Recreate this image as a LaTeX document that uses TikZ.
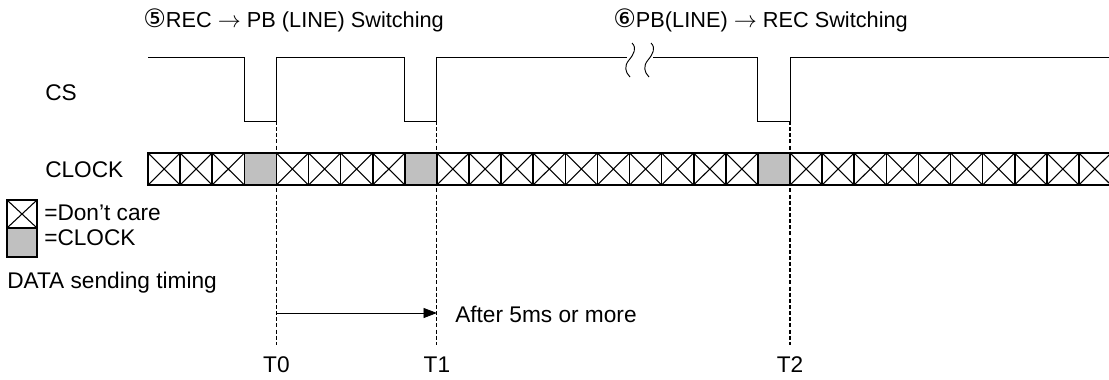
\documentclass[tikz,border=0pt]{standalone}
\usepackage{fontspec}
\setmainfont{Liberation Sans}
\newfontfamily\symfont{DejaVu Sans}
\usetikzlibrary{positioning,calc,arrows.meta}
\definecolor{clkgray}{RGB}{192,192,192}

\begin{document}
\begin{tikzpicture}[x=0.75pt,y=-0.75pt,
txt/.style={inner sep=0pt,font=\fontsize{17}{20}\selectfont},
ttl/.style={inner sep=0pt,font=\fontsize{16.3}{20}\selectfont},
signal/.style={line width=0.7pt},
cellbox/.style={draw,line width=1.2pt},
clkcell/.style={cellbox,fill=clkgray},
cross/.style={line width=0.8pt},
marker/.style={dash pattern=on 3pt off 1.6pt,line width=0.8pt},
edge/.style={-{Triangle[length=10pt,width=7.5pt]},line width=0.6pt}]

\useasboundingbox (0,0) rectangle (1109,379);
\clip (0,0) rectangle (1109,379);

% titles
\node[ttl,anchor=base west] (title5) at (143,27) {{\symfont\fontsize{19}{20}\selectfont ⑤}REC $\rightarrow$ PB (LINE) Switching};
\node[ttl,anchor=base west] (title6) at (613,27) {{\symfont\fontsize{19}{20}\selectfont ⑥}PB(LINE) $\rightarrow$ REC Switching};

% signal names
\node[txt,anchor=base west] (cs) at (45,100) {CS};
\node[txt,anchor=base west] (clock) at (45,177) {CLOCK};

% CS waveform
\draw[signal] (148,57) -- (244.3,57) -- (244.3,121) -- (276.4,121) -- (276.4,57)
  -- (404.8,57) -- (404.8,121) -- (436.9,121) -- (436.9,57) -- (627,57);
\draw[signal] (653,57) -- (757.9,57) -- (757.9,121) -- (790,121) -- (790,57) -- (1109,57);

% break marks
\foreach \dx in {0,19}{
  \draw[signal] (632+\dx,43) .. controls (637+\dx,48) and (634+\dx,54) .. (629+\dx,60)
    .. controls (624+\dx,66) and (625+\dx,72) .. (630+\dx,77);
}

% CLOCK cells
\foreach \k in {0,...,29}{
  \pgfmathsetmacro{\xa}{148+32.1*\k}
  \pgfmathsetmacro{\xb}{148+32.1*(\k+1)}
  \ifnum\k=3 \def\isclk{1}\else\ifnum\k=8 \def\isclk{1}\else\ifnum\k=19 \def\isclk{1}\else\def\isclk{0}\fi\fi\fi
  \ifnum\isclk=1
    \draw[clkcell] (\xa,153) rectangle (\xb,185);
  \else
    \draw[cross] (\xa,153) -- (\xb,185) (\xa,185) -- (\xb,153);
    \draw[cellbox] (\xa,153) rectangle (\xb,185);
  \fi
}

% timing marks
\coordinate (t0) at (276.4,121);
\coordinate (t1) at (436.9,121);
\coordinate (t2) at (790,121);
\foreach \t in {t0,t1,t2}{
  \draw[marker] (\t) -- ($(\t)+(0,224)$);
}
\node[txt,anchor=base] (lt0) at (276.4,372) {T0};
\node[txt,anchor=base] (lt1) at (436.9,372) {T1};
\node[txt,anchor=base] (lt2) at (790,372) {T2};

% interval
\coordinate (a0) at (276.4,313);
\coordinate (a1) at (436.9,313);
\draw[edge] (a0) -- (a1);
\node[txt,anchor=base west] (after) at (455,322) {After 5ms or more};

% KEY
\draw[cross] (7,200) -- (37,228) (7,228) -- (37,200);
\draw[cellbox,line width=0.9pt] (7,200) rectangle (37,228);
\draw[clkcell,line width=0.9pt] (7,228) rectangle (37,257);
\node[txt,anchor=base west] (dc) at (44,220) {=Don’t care};
\node[txt,anchor=base west] (ck) at (44,245) {=CLOCK};
\node[txt,anchor=base west] (data) at (7,288) {DATA sending timing};

\end{tikzpicture}
\end{document}
